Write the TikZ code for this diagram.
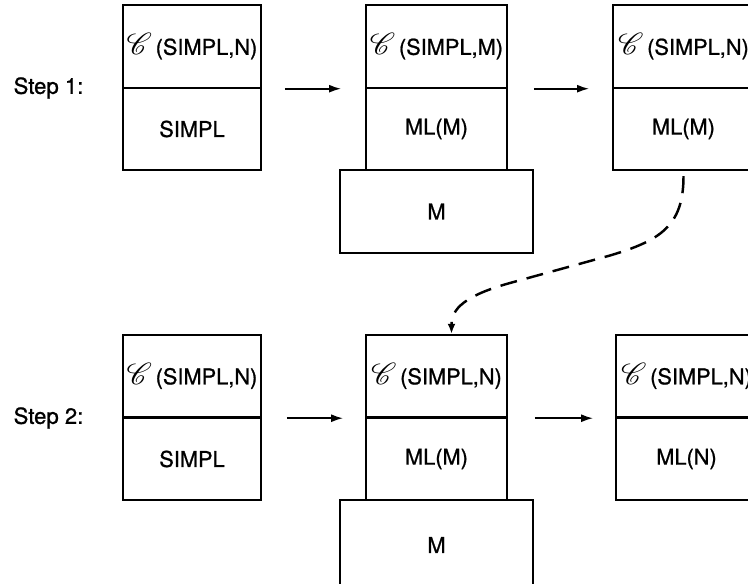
\documentclass[tikz,border=0pt]{standalone}
\usepackage{fontspec}
\setmainfont{TeX Gyre Heros}
\newfontfamily\heavyfont{TeX Gyre Heros}[FakeBold=0.9]
\usepackage{mathrsfs}
\usetikzlibrary{arrows.meta}

% compiler box heading: script C with its source and target
\newcommand{\compof}[1]{{\LARGE$\mathscr{C}$}\,(SIMPL,#1)}

\begin{document}
\begin{tikzpicture}[cell/.style={draw, line width=1.1pt, minimum height=1.65cm, inner sep=0pt, font=\heavyfont\fontsize{12.4}{15}\selectfont}, narrow/.style={cell, minimum width=2.76cm}, wide/.style={cell, minimum width=2.82cm}, host/.style={cell, minimum width=3.86cm}, flow/.style={-{Latex[length=2.4mm,width=1.6mm]}, line width=0.9pt}, link/.style={-{Latex[length=2mm,width=1.6mm]}, line width=1.4pt, dash pattern=on 3.4mm off 2mm}, steplabel/.style={font=\heavyfont\fontsize{12.6}{15}\selectfont}]

\useasboundingbox (0,0) rectangle (14.96,11.66); \clip (0,0) rectangle (14.96,11.66);

% step 1
\node[steplabel] (step1) at (0.97,9.9) {Step 1:};
\node[narrow] (a1head) at (3.84,10.73) {\compof{N}}; \node[narrow] (a1body) at (3.84,9.08) {SIMPL};
\node[wide] (b1head) at (8.73,10.73) {\compof{M}}; \node[wide] (b1body) at (8.73,9.08) {ML(M)}; \node[host] (b1host) at (8.73,7.43) {M};
\node[wide] (c1head) at (13.67,10.73) {\compof{N}}; \node[wide] (c1body) at (13.67,9.08) {ML(M)};
\draw[flow] ([xshift=4.6mm]a1head.south east) -- ([xshift=-4.8mm]b1head.south west);
\draw[flow] ([xshift=5.2mm]b1head.south east) -- ([xshift=-4.6mm]c1head.south west);

% step 2
\node[steplabel] (step2) at (0.97,3.3) {Step 2:};
\node[narrow] (a2head) at (3.84,4.14) {\compof{N}}; \node[narrow] (a2body) at (3.84,2.48) {SIMPL};
\node[wide] (b2head) at (8.73,4.14) {\compof{N}}; \node[wide] (b2body) at (8.73,2.48) {ML(M)}; \node[host, minimum height=1.8cm] (b2host) at (8.73,0.76) {M};
\node[wide] (c2head) at (13.73,4.14) {\compof{N}}; \node[wide] (c2body) at (13.73,2.48) {ML(N)};
\draw[flow] ([xshift=5mm]a2head.south east) -- ([xshift=-4.4mm]b2head.south west);
\draw[flow] ([xshift=5.4mm]b2head.south east) -- ([xshift=-4.4mm]c2head.south west);

% new compiler carried down into step 2
\coordinate (bendA) at (12.2,6.55); \coordinate (bendB) at (10.2,6.0);
\draw[link] ([yshift=-1mm]c1body.south) .. controls +(0,-1.0) and +(1.0,0.3) .. (bendA) -- (bendB) .. controls +(-0.9,-0.25) and +(0,0.5) .. ([xshift=3mm]b2head.north);
\end{tikzpicture}
\end{document}
